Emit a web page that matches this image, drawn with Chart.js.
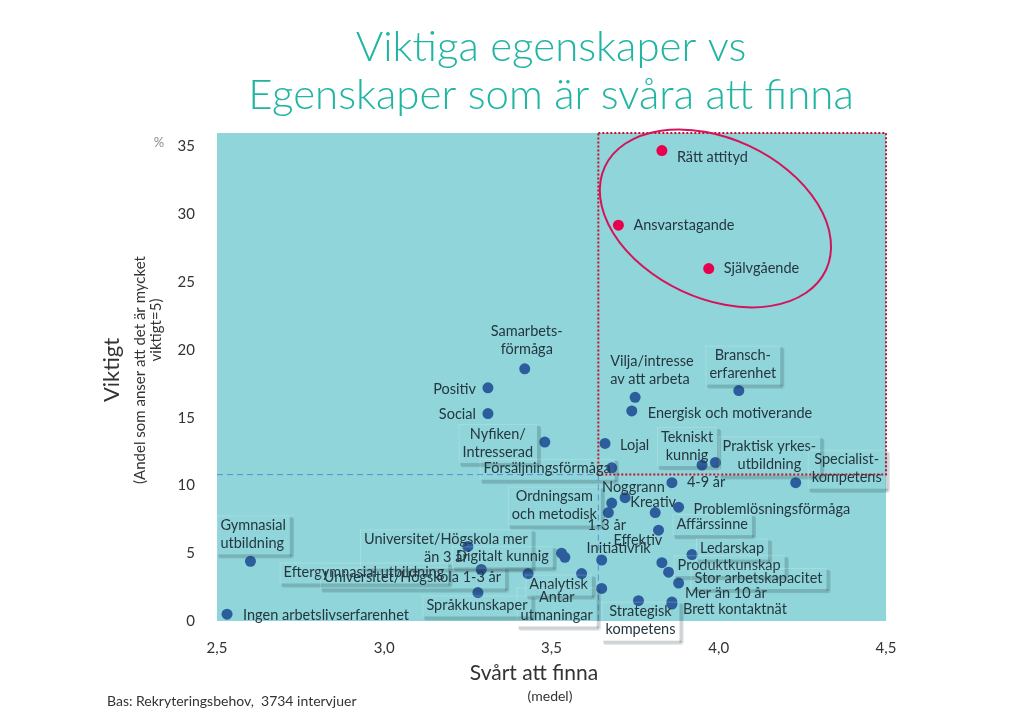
<!DOCTYPE html>
<html>
<head>
<meta charset="utf-8">
<script src="https://cdn.jsdelivr.net/npm/chart.js@4.4.1/dist/chart.umd.min.js"></script>
<style>
  html, body { margin: 0; padding: 0; background: #fff; }
</style>
</head>
<body>
<canvas id="chart" width="1024" height="728"></canvas>
<script>
// =======================
// DATA
// =======================
const egenskaper = [
    'Samarbets-\nförmåga', 'Positiv', 'Social', 'Nyfiken/\nIntresserad', 'Försäljningsförmåga',
    'Vilja/intresse\nav att arbeta', 'Energisk och motiverande', 'Bransch-\nerfarenhet', 'Lojal',
    'Tekniskt\nkunnig', 'Praktisk yrkes-\nutbildning', 'Specialist-\nkompetens', '4-9 år', 'Noggrann',
    'Ordningsam\noch metodisk', '1-3 år', 'Kreativ', 'Problemlösningsförmåga', 'Affärssinne',
    'Effektiv', 'Initiativrik', 'Ledarskap', 'Produktkunskap', 'Stor arbetskapacitet',
    'Mer än 10 år', 'Brett kontaktnät', 'Strategisk\nkompetens', 'Analytisk', 'Antar\nutmaningar',
    'Universitet/Högskola mer\nän 3 år', 'Digitalt kunnig', '', 'Eftergymnasial utbildning',
    'Universitet/Högskola 1-3 år', 'Språkkunskaper', 'Gymnasial\nutbildning', 'Ingen arbetslivserfarenhet'
];
const svartAttFinna = [
    3.42, 3.31, 3.31, 3.48, 3.68,
    3.75, 3.74, 4.06, 3.66,
    3.95, 3.99, 4.23, 3.86, 3.72,
    3.67, 3.68, 3.81, 3.88, 3.82,
    3.83, 3.65, 3.92, 3.85, 3.88,
    3.86, 3.86, 3.76, 3.59, 3.65,
    3.25, 3.54, 3.53, 3.29,
    3.43, 3.28, 2.60, 2.53
];
const viktigt = [
    18.6, 17.2, 15.3, 13.2, 11.3,
    16.5, 15.5, 17.0, 13.1,
    11.5, 11.7, 10.2, 10.2, 9.1,
    8.0, 8.7, 8.0, 8.4, 6.7,
    4.3, 4.5, 4.9, 3.6, 2.8,
    1.4, 1.25, 1.5, 3.5, 2.4,
    5.5, 4.7, 5.0, 3.8,
    3.5, 2.1, 4.4, 0.5
];

const topEgenskaper = ['Rätt attityd', 'Ansvarstagande', 'Självgående'];
const topSvart = [3.83, 3.70, 3.97];
const topViktigt = [34.7, 29.2, 26.0];

const xTicks = [2.5, 3.0, 3.5, 4.0, 4.5];
const yTicks = [0, 5, 10, 15, 20, 25, 30, 35];
const medelSvart = 3.64;
const medelViktigt = 10.8;

// =======================
// ETIKETTER (placering i px relativt punkten)
// =======================
const etikettLayout = {
    'Rätt attityd': [15, 7, 'left'],
    'Ansvarstagande': [15, 0, 'left'],
    'Självgående': [15, 0, 'left'],
    'Samarbets-\nförmåga': [2, -38, 'center'],
    'Positiv': [-12, 1, 'right'],
    'Social': [-12, 1, 'right'],
    'Nyfiken/\nIntresserad': [-47, -8, 'center', true],
    'Försäljningsförmåga': [-1, 1, 'right', true],
    'Vilja/intresse\nav att arbeta': [-25, -36, 'left'],
    'Energisk och motiverande': [16, 2, 'left'],
    'Bransch-\nerfarenhet': [4, -35, 'center', true],
    'Lojal': [15, 2, 'left'],
    'Tekniskt\nkunnig': [-15, -28, 'center', true],
    'Praktisk yrkes-\nutbildning': [54, -16, 'center', true],
    'Specialist-\nkompetens': [51, -23, 'center', true],
    '4-9 år': [15, 0, 'left'],
    'Noggrann': [-23, -10, 'left'],
    'Ordningsam\noch metodisk': [-54, -16, 'center', true],
    '1-3 år': [-5, 22, 'center'],
    'Kreativ': [-2, -10, 'center'],
    'Problemlösningsförmåga': [15, 2, 'left'],
    'Affärssinne': [18, -6, 'left', true],
    'Effektiv': [-24, -22, 'center'],
    'Initiativrik': [17, -12, 'center'],
    'Ledarskap': [8, -6, 'left', true],
    'Produktkunskap': [9, -7, 'left', true],
    'Stor arbetskapacitet': [16, -5, 'left', true],
    'Mer än 10 år': [13, -9, 'left'],
    'Brett kontaktnät': [11, 5, 'left'],
    'Strategisk\nkompetens': [2, 11, 'center', true],
    'Analytisk': [-23, 11, 'center', true],
    'Antar\nutmaningar': [-45, 9, 'center', true],
    'Universitet/Högskola mer\nän 3 år': [-22, -7, 'center', true],
    'Digitalt kunnig': [-16, -1, 'right', true],
    'Eftergymnasial utbildning': [-37, 3, 'right', true],
    'Universitet/Högskola 1-3 år': [-27, 4, 'right', true],
    'Språkkunskaper': [-1, 13, 'center', true],
    'Gymnasial\nutbildning': [-30, -36, 'left', true],
    'Ingen arbetslivserfarenhet': [16, 1, 'left']
};

const TEAL = '#8fd5d9';
const TEXT = '#26363f';
const FONT = 'Lato, "Open Sans", sans-serif';

function ritaEtikett(ctx, area, px, py, namn) {
    const lay = etikettLayout[namn];
    if (!namn || !lay) return;
    const [dx, dy, align, box] = lay;
    const rader = namn.split('\n');
    const lh = 18;
    ctx.font = '14.5px ' + FONT;
    const w = Math.max(...rader.map(r => ctx.measureText(r).width));
    let left;
    if (align === 'left') left = px + dx;
    else if (align === 'right') left = px + dx - w;
    else left = px + dx - w / 2;
    const top = py + dy - lh / 2;

    if (box) {
        const bx = left - 4, by = top - 1, bw = w + 8, bh = rader.length * lh + 3;
        // vit bakgrund bara utanför plotytan
        ctx.save();
        ctx.beginPath();
        ctx.rect(0, area.bottom, 1024, 200);
        ctx.clip();
        ctx.fillStyle = '#ffffff';
        ctx.fillRect(bx, by, bw, bh);
        ctx.restore();
        // mjuk skugga nedtill och till höger
        ctx.fillStyle = 'rgba(35,55,65,0.22)';
        ctx.fillRect(bx + 2, by + bh, bw, 3);
        ctx.fillRect(bx + bw, by + 2, 3, bh);
        ctx.fillStyle = 'rgba(35,55,65,0.18)';
        ctx.fillRect(bx + 3, by + bh + 3, bw, 1);
        ctx.fillRect(bx + bw + 3, by + 3, 1, bh);
        ctx.fillStyle = 'rgba(255,255,255,0.2)';
        ctx.fillRect(bx, by, bw, 1);
        ctx.fillRect(bx, by, 1, bh);
    }

    ctx.fillStyle = TEXT;
    ctx.textBaseline = 'middle';
    ctx.textAlign = 'left';
    rader.forEach((r, i) => {
        const rw = ctx.measureText(r).width;
        let x;
        if (align === 'left') x = left;
        else if (align === 'right') x = left + w - rw;
        else x = left + (w - rw) / 2;
        ctx.fillText(r, x, py + dy + i * lh);
    });
}

const dekorPlugin = {
    id: 'dekor',
    beforeDraw(chart) {
        const { ctx, chartArea: a, scales: { x, y } } = chart;
        ctx.save();
        ctx.fillStyle = TEAL;
        ctx.fillRect(a.left, a.top, a.right - a.left, a.bottom - a.top);
        // medellinjer
        const mx = x.getPixelForValue(medelSvart);
        const my = y.getPixelForValue(medelViktigt);
        ctx.strokeStyle = '#5a8fd6';
        ctx.lineWidth = 1;
        ctx.setLineDash([6, 4]);
        ctx.beginPath();
        ctx.moveTo(a.left, my);
        ctx.lineTo(mx, my);
        ctx.moveTo(mx, my);
        ctx.lineTo(mx, a.bottom);
        ctx.stroke();
        ctx.restore();
    },
    afterDatasetsDraw(chart) {
        const { ctx, chartArea: a, scales: { x, y } } = chart;
        const mx = x.getPixelForValue(medelSvart);
        const my = y.getPixelForValue(medelViktigt);
        ctx.save();
        // röd prickad kvadrant
        ctx.strokeStyle = '#c8102e';
        ctx.lineWidth = 2;
        ctx.setLineDash([2, 2]);
        ctx.strokeRect(mx, a.top, a.right - mx, my - a.top);
        ctx.setLineDash([]);
        // ellips runt toppgruppen
        ctx.strokeStyle = '#d4145a';
        ctx.lineWidth = 2;
        ctx.beginPath();
        ctx.ellipse(x.getPixelForValue(3.99), y.getPixelForValue(29.7), 122, 80, 25 * Math.PI / 180, 0, Math.PI * 2);
        ctx.stroke();
        ctx.restore();

        ctx.save();
        egenskaper.forEach((n, i) => ritaEtikett(ctx, a, x.getPixelForValue(svartAttFinna[i]), y.getPixelForValue(viktigt[i]), n));
        topEgenskaper.forEach((n, i) => ritaEtikett(ctx, a, x.getPixelForValue(topSvart[i]), y.getPixelForValue(topViktigt[i]), n));
        ctx.restore();
    },
    afterDraw(chart) {
        const { ctx } = chart;
        ctx.save();
        // rubrik
        ctx.fillStyle = '#1fb5a2';
        ctx.font = '300 42px ' + FONT;
        ctx.textAlign = 'center';
        ctx.textBaseline = 'middle';
        ctx.fillText('Viktiga egenskaper vs', 551, 47);
        ctx.fillText('Egenskaper som är svåra att finna', 551, 95);

        // x-axelns titel
        ctx.fillStyle = '#333';
        ctx.font = '21px ' + FONT;
        ctx.fillText('Svårt att finna', 534, 673);
        ctx.font = '14px ' + FONT;
        ctx.fillText('(medel)', 550, 696);

        // fotnot
        ctx.textAlign = 'left';
        ctx.font = '14px ' + FONT;
        ctx.fillText('Bas: Rekryteringsbehov,  3734 intervjuer', 107, 701);

        // procent
        ctx.fillStyle = '#8a8a8a';
        ctx.font = '13px ' + FONT;
        ctx.textAlign = 'center';
        ctx.fillText('%', 159, 143);

        // y-axelns titel
        ctx.translate(112, 370);
        ctx.rotate(-Math.PI / 2);
        ctx.fillStyle = '#333';
        ctx.font = '22px ' + FONT;
        ctx.fillText('Viktigt', 0, 0);
        ctx.font = '15px ' + FONT;
        ctx.fillText('(Andel som anser att det är mycket', 0, 28);
        ctx.fillText('viktigt=5)', 40, 44);
        ctx.restore();
    }
};

const ctx = document.getElementById('chart').getContext('2d');

new Chart(ctx, {
    type: 'scatter',
    data: {
        datasets: [
            {
                label: 'Egenskaper',
                data: svartAttFinna.map((v, i) => ({ x: v, y: viktigt[i] })),
                backgroundColor: '#2c5d9c',
                borderWidth: 0,
                pointRadius: 5.5
            },
            {
                label: 'Viktigast',
                data: topSvart.map((v, i) => ({ x: v, y: topViktigt[i] })),
                backgroundColor: '#e8004f',
                borderWidth: 0,
                pointRadius: 5.5
            }
        ]
    },
    options: {
        responsive: false,
        animation: false,
        devicePixelRatio: 1,
        layout: { padding: { left: 157, right: 138, top: 133, bottom: 57 } },
        scales: {
            x: {
                type: 'linear',
                min: 2.5,
                max: 4.5,
                afterBuildTicks: s => { s.ticks = xTicks.map(v => ({ value: v })); },
                afterFit: s => { s.height = 50; },
                grid: { display: false },
                border: { display: false },
                ticks: {
                    padding: 10,
                    color: '#333',
                    font: { family: FONT, size: 15 },
                    maxRotation: 0,
                    callback: v => v.toFixed(1).replace('.', ',')
                }
            },
            y: {
                type: 'linear',
                min: 0,
                max: 36,
                afterBuildTicks: s => { s.ticks = yTicks.map(v => ({ value: v })); },
                afterFit: s => { s.width = 60; },
                grid: { display: false },
                border: { display: false },
                ticks: {
                    padding: 14,
                    color: '#333',
                    font: { family: FONT, size: 15 }
                }
            }
        },
        plugins: {
            legend: { display: false },
            tooltip: { enabled: false },
            title: { display: false }
        }
    },
    plugins: [dekorPlugin]
});
</script>
</body>
</html>
